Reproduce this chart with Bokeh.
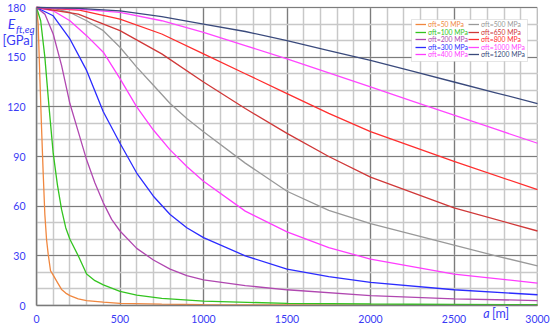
from bokeh.plotting import figure
from bokeh.models import FixedTicker, Legend, LegendItem, Label, BoxAnnotation, Range1d
from bokeh.embed import file_html
from bokeh.resources import INLINE

# ---- data ----
labels = ["σft=50 MPa", "σft=100 MPa", "σft=200 MPa", "σft=300 MPa", "σft=400 MPa",
          "σft=500 MPa", "σft=650 MPa", "σft=800 MPa", "σft=1000 MPa", "σft=1200 MPa"]
colors = ["#f0873f", "#33c41f", "#b047b0", "#2b2bff", "#ff3cff",
          "#999999", "#d03838", "#ff2e2e", "#ff46ff", "#3a4a7c"]

a_50 = [0, 10, 20, 30, 40, 50, 60, 70, 84, 100, 125, 150, 175, 200, 250, 300, 400, 500, 750, 1000, 1500, 2000, 3000]
e_50 = [180, 170, 138, 108, 80, 55, 40, 31, 21, 18.3, 14, 9.7, 7.5, 6, 4, 3, 2, 1.3, 0.8, 0.5, 0.3, 0.2, 0.1]

a_100 = [0, 25, 50, 75, 100, 125, 150, 175, 200, 250, 300, 350, 400, 500, 600, 750, 1000, 1500, 2000, 2500, 3000]
e_100 = [180, 172, 150, 120, 92, 73, 58, 47, 40, 30, 19, 15, 12.5, 8.5, 6.3, 4.3, 2.6, 1.3, 0.9, 0.6, 0.45]

a_200 = [0, 50, 100, 150, 200, 250, 300, 350, 400, 450, 500, 600, 700, 800, 900, 1000, 1250, 1500, 2000, 2500, 3000]
e_200 = [180, 176, 164, 145, 122, 105, 88, 74, 62, 52, 45, 34.5, 27.5, 22, 18, 15.5, 12, 9.5, 6, 4, 3]

a_300 = [0, 100, 200, 300, 400, 500, 600, 700, 800, 900, 1000, 1250, 1500, 1750, 2000, 2500, 3000]
e_300 = [180, 175, 161, 142, 117, 98, 80, 66, 55, 47, 41, 30, 22, 17.5, 14, 9.5, 6.5]

a_400 = [0, 100, 200, 300, 400, 500, 600, 700, 800, 900, 1000, 1250, 1500, 1750, 2000, 2500, 3000]
e_400 = [180, 178, 172, 163, 153, 137, 120, 106, 94, 84, 75, 57, 44.5, 35, 28, 19, 13.5]

a_500 = [0, 100, 200, 300, 400, 500, 600, 700, 800, 900, 1000, 1250, 1500, 1750, 2000, 2250, 2500, 2750, 3000]
e_500 = [180, 179.5, 177, 172, 166, 156, 144, 133, 122, 113, 105, 86, 69, 57.5, 49.5, 43, 36.5, 30, 24]

a_650 = [0, 250, 500, 750, 1000, 1250, 1500, 1750, 2000, 2500, 3000]
e_650 = [180, 176, 166, 152, 135, 119, 104, 90, 77.5, 59, 45]

a_800 = [0, 250, 500, 750, 1000, 1250, 1500, 1750, 2000, 2500, 3000]
e_800 = [180, 178.5, 173, 164, 152, 140, 128, 116, 105, 87, 70]

a_1000 = [0, 250, 500, 750, 1000, 1250, 1500, 1750, 2000, 2250, 2500, 2750, 3000]
e_1000 = [180, 179, 177, 172, 165, 157, 149, 140.5, 132, 123.5, 115, 106.5, 98]

a_1200 = [0, 250, 500, 750, 1000, 1250, 1500, 1750, 2000, 2250, 2500, 2750, 3000]
e_1200 = [180, 179.5, 178, 174.5, 170, 165.5, 160, 154, 148, 141.5, 135, 128.5, 122]

xs_all = [a_50, a_100, a_200, a_300, a_400, a_500, a_650, a_800, a_1000, a_1200]
ys_all = [e_50, e_100, e_200, e_300, e_400, e_500, e_650, e_800, e_1000, e_1200]

x_ticks = [0, 500, 1000, 1500, 2000, 2500, 3000]
x_minor = list(range(0, 3001, 100))
y_ticks = [0, 30, 60, 90, 120, 150, 180]
y_minor = list(range(0, 181, 10))

# ---- layout: the frame is the whole figure; axes sit at fixed data locations ----
W, H = 550, 324
X0PX, X1PX = 36, 537      # pixel of a=0 / a=3000
Y1PX, Y0PX = 7, 305       # pixel of E=180 / E=0
ux = 3000.0 / (X1PX - X0PX)
uy = 180.0 / (Y0PX - Y1PX)


def dx(px):
    return (px - X0PX) * ux


def dy(py):
    return (Y0PX - py) * uy


p = figure(width=W, height=H, output_backend="svg", toolbar_location=None,
           x_range=Range1d(dx(0), dx(W)), y_range=Range1d(dy(H), dy(0)),
           min_border_left=0, min_border_right=0, min_border_top=0, min_border_bottom=0)
p.outline_line_color = None
p.background_fill_color = "white"
p.border_fill_color = "white"

blue = "#3a3af5"
for ax, tk, mn, bd in ((p.xaxis, x_ticks, x_minor, (0, 3000)), (p.yaxis, y_ticks, y_minor, (0, 180))):
    ax.ticker = FixedTicker(ticks=tk, minor_ticks=mn)
    ax.fixed_location = 0
    ax.bounds = bd
    ax.axis_line_color = "#7a7a7a"
    ax.axis_line_width = 1.5
    ax.major_tick_line_color = None
    ax.minor_tick_line_color = None
    ax.major_label_text_color = blue
    ax.major_label_text_font = "Lato"
    ax.major_label_text_font_size = "10.5px"
p.xaxis.major_label_standoff = 3
p.yaxis.major_label_standoff = 5

for g in (p.xgrid, p.ygrid):
    g.grid_line_color = "#7c7c7c"
    g.grid_line_width = 1.2
    g.grid_line_alpha = 1
    g.minor_grid_line_color = "#c8c8c8"
    g.minor_grid_line_width = 1.5
try:
    p.xgrid.cross_bounds = (0, 180)
    p.ygrid.cross_bounds = (0, 3000)
except Exception:
    pass

# white masks over the margins (drawn over the grid, under the axes and curves)
p.add_layout(BoxAnnotation(right=0, fill_color="white", fill_alpha=1, line_color=None, level="underlay"))
p.add_layout(BoxAnnotation(top=0, fill_color="white", fill_alpha=1, line_color=None, level="underlay"))
p.add_layout(BoxAnnotation(left=3000, fill_color="white", fill_alpha=1, line_color=None, level="underlay"))

renderers = []
for xs, ys, c in zip(xs_all, ys_all, colors):
    r = p.line(xs, ys, line_color=c, line_width=1.3)
    renderers.append(r)

# legend frame
p.add_layout(BoxAnnotation(left=dx(411), right=dx(527), top=dy(19), bottom=dy(61),
                           fill_color="white", fill_alpha=1, line_color="#a8a8a8", line_width=1))

row_center = [24.3, 32.0, 39.7, 47.2, 54.5]
col_x = [415, 468]
for i, (lab, c, r) in enumerate(zip(labels, colors, renderers)):
    col, row = divmod(i, 5)
    lg = Legend(items=[LegendItem(label=lab, renderers=[r])],
                location=(col_x[col], H - row_center[row] - 3.5),
                orientation="vertical", padding=0, margin=0, spacing=0,
                glyph_width=11, glyph_height=6, label_height=6, label_standoff=2,
                label_text_font="Lato", label_text_font_size="6.8px",
                label_text_color=c, border_line_color=None, background_fill_alpha=0)
    p.add_layout(lg)

# axis titles
p.add_layout(Label(x=dx(11), y=dy(23), text="E", text_color=blue, text_font="Lato",
                   text_font_style="italic", text_font_size="14px", text_align="center",
                   text_baseline="middle"))
p.add_layout(Label(x=dx(15.5), y=dy(28), text="ft,eq", text_color=blue, text_font="Lato",
                   text_font_style="italic", text_font_size="10px", text_align="left",
                   text_baseline="middle"))
p.add_layout(Label(x=dx(17.5), y=dy(39), text="[GPa]", text_color=blue, text_font="Lato",
                   text_font_size="13px", text_align="center", text_baseline="middle"))
p.add_layout(Label(x=dx(486), y=dy(313), text="a", text_color=blue, text_font="Lato",
                   text_font_style="italic", text_font_size="12.5px", text_align="center",
                   text_baseline="middle"))
p.add_layout(Label(x=dx(500), y=dy(313), text="[m]", text_color=blue, text_font="Lato",
                   text_font_size="12.5px", text_align="center", text_baseline="middle"))

open("out.html", "w").write(file_html(p, INLINE))
